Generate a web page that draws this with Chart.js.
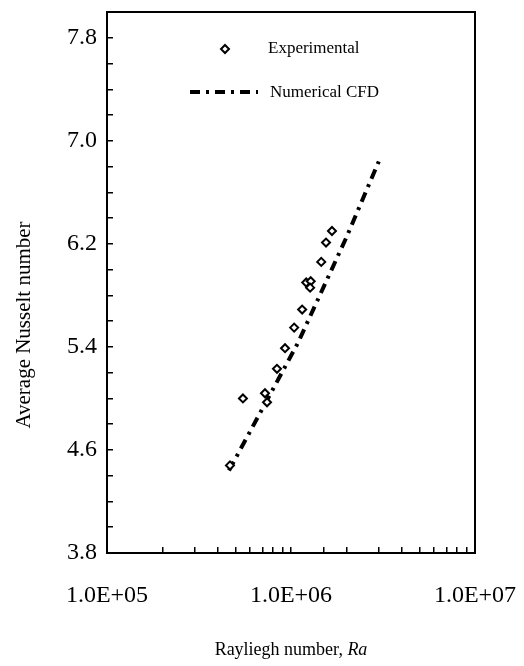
<!DOCTYPE html>
<html>
<head>
<meta charset="utf-8">
<script src="https://cdn.jsdelivr.net/npm/chart.js@4.4.1/dist/chart.umd.min.js"></script>
<style>
  html, body { margin: 0; padding: 0; background: #fff; }
  #wrap { width: 524px; height: 666px; position: relative; }
</style>
</head>
<body>
<div id="wrap"><canvas id="chart"></canvas></div>
<script>
// ---------- Data ----------
const raExp = [4.66e5, 5.48e5, 7.22e5, 7.41e5, 8.39e5, 9.28e5, 1.04e6, 1.15e6, 1.21e6, 1.28e6, 1.27e6, 1.46e6, 1.55e6, 1.67e6];
const nuExp = [4.48, 5.00, 5.04, 4.97, 5.23, 5.39, 5.55, 5.69, 5.90, 5.91, 5.86, 6.06, 6.21, 6.30];

const raCfd = [4.6e5, 1.09e6, 2.0e6, 3.0e6];
const nuCfd = [4.44, 5.43, 6.25, 6.84];

const xTickValues = [1e5, 1e6, 1e7];
const xTickLabels = ["1.0E+05", "1.0E+06", "1.0E+07"];
const yTickValues = [3.8, 4.6, 5.4, 6.2, 7.0, 7.8];

const FONT = "'Liberation Serif', 'Times New Roman', serif";
const DASH = [10, 6, 3, 6];

// ---------- Plugins ----------
const framePlugin = {
  id: "frame",
  afterDraw(chart) {
    const { ctx, chartArea: a } = chart;
    ctx.save();
    ctx.strokeStyle = "#000";
    ctx.lineWidth = 2;
    ctx.strokeRect(a.left, a.top, a.right - a.left, a.bottom - a.top);
    ctx.restore();
  }
};

// axis titles: y one sits below the plot middle, x one has an italic "Ra"
const axisTitles = {
  id: "axisTitles",
  afterDraw(chart) {
    const { ctx, chartArea: a } = chart;
    ctx.save();
    ctx.fillStyle = "#000";
    ctx.textBaseline = "middle";

    ctx.save();
    ctx.translate(24, 325);
    ctx.rotate(-Math.PI / 2);
    ctx.font = "21px " + FONT;
    ctx.textAlign = "center";
    ctx.fillText("Average Nusselt number", 0, 0);
    ctx.restore();

    const plain = "Rayliegh number, ";
    const ital = "Ra";
    ctx.font = "18px " + FONT;
    const w1 = ctx.measureText(plain).width;
    ctx.font = "italic 18px " + FONT;
    const w2 = ctx.measureText(ital).width;
    const x = (a.left + a.right) / 2 - (w1 + w2) / 2;
    ctx.textAlign = "left";
    ctx.font = "18px " + FONT;
    ctx.fillText(plain, x, 650);
    ctx.font = "italic 18px " + FONT;
    ctx.fillText(ital, x + w1, 650);
    ctx.restore();
  }
};

// legend sits inside the plot, top left
const innerLegend = {
  id: "innerLegend",
  afterDraw(chart) {
    const { ctx, chartArea: a } = chart;
    const x0 = a.left;
    const y1 = a.top + 37;
    const y2 = a.top + 80;
    ctx.save();
    ctx.font = "17px " + FONT;
    ctx.textBaseline = "middle";

    // Experimental
    ctx.lineWidth = 2;
    ctx.strokeStyle = "#000";
    ctx.fillStyle = "#fff";
    ctx.beginPath();
    ctx.moveTo(x0 + 118, y1 - 4);
    ctx.lineTo(x0 + 122, y1);
    ctx.lineTo(x0 + 118, y1 + 4);
    ctx.lineTo(x0 + 114, y1);
    ctx.closePath();
    ctx.fill();
    ctx.stroke();
    ctx.fillStyle = "#000";
    ctx.fillText("Experimental", x0 + 161, y1);

    // Numerical CFD
    ctx.lineWidth = 4;
    ctx.setLineDash(DASH);
    ctx.beginPath();
    ctx.moveTo(x0 + 83, y2);
    ctx.lineTo(x0 + 151, y2);
    ctx.stroke();
    ctx.setLineDash([]);
    ctx.fillText("Numerical CFD", x0 + 163, y2 + 1);
    ctx.restore();
  }
};

// ---------- Chart ----------
const expPoints = raExp.map((r, i) => ({ x: r, y: nuExp[i] }));
const cfdPoints = raCfd.map((r, i) => ({ x: r, y: nuCfd[i] }));

new Chart(document.getElementById("chart"), {
  type: "scatter",
  data: {
    datasets: [
      {
        label: "Experimental",
        data: expPoints,
        pointStyle: "rectRot",
        pointRadius: 4,
        pointBorderWidth: 2,
        pointBorderColor: "#000",
        pointBackgroundColor: "#fff",
        showLine: false
      },
      {
        label: "Numerical CFD",
        data: cfdPoints,
        showLine: true,
        borderColor: "#000",
        borderWidth: 4,
        borderDash: DASH,
        pointRadius: 0
      }
    ]
  },
  options: {
    responsive: true,
    maintainAspectRatio: false,
    animation: false,
    layout: { padding: { top: 12, right: 49, left: 0, bottom: 0 } },
    plugins: {
      legend: { display: false },
      tooltip: { enabled: false }
    },
    scales: {
      x: {
        type: "logarithmic",
        min: 1e5,
        max: 1e7,
        afterFit(scale) {
          scale.height = 113;
          scale.paddingLeft = 0;
          scale.paddingRight = 0;
        },
        border: { color: "#000", width: 2 },
        grid: { drawOnChartArea: false, tickLength: -6, color: "#000", lineWidth: 1.5 },
        ticks: {
          autoSkip: false,
          maxRotation: 0,
          padding: 34,
          color: "#000",
          font: { family: FONT, size: 24 },
          callback(v) {
            const i = xTickValues.findIndex(t => Math.abs(t - v) / t < 1e-6);
            return i >= 0 ? xTickLabels[i] : "";
          }
        }
      },
      y: {
        min: 3.8,
        max: 8.0,
        afterFit(scale) {
          scale.width = 107;
          scale.paddingTop = 0;
          scale.paddingBottom = 0;
        },
        border: { color: "#000", width: 2 },
        grid: { drawOnChartArea: false, tickLength: -6, color: "#000", lineWidth: 1.5 },
        ticks: {
          stepSize: 0.2,
          autoSkip: false,
          padding: 16,
          color: "#000",
          font: { family: FONT, size: 24 },
          callback(v) {
            const hit = yTickValues.find(t => Math.abs(t - v) < 1e-6);
            return hit !== undefined ? hit.toFixed(1) : "";
          }
        }
      }
    }
  },
  plugins: [framePlugin, axisTitles, innerLegend]
});
</script>
</body>
</html>
